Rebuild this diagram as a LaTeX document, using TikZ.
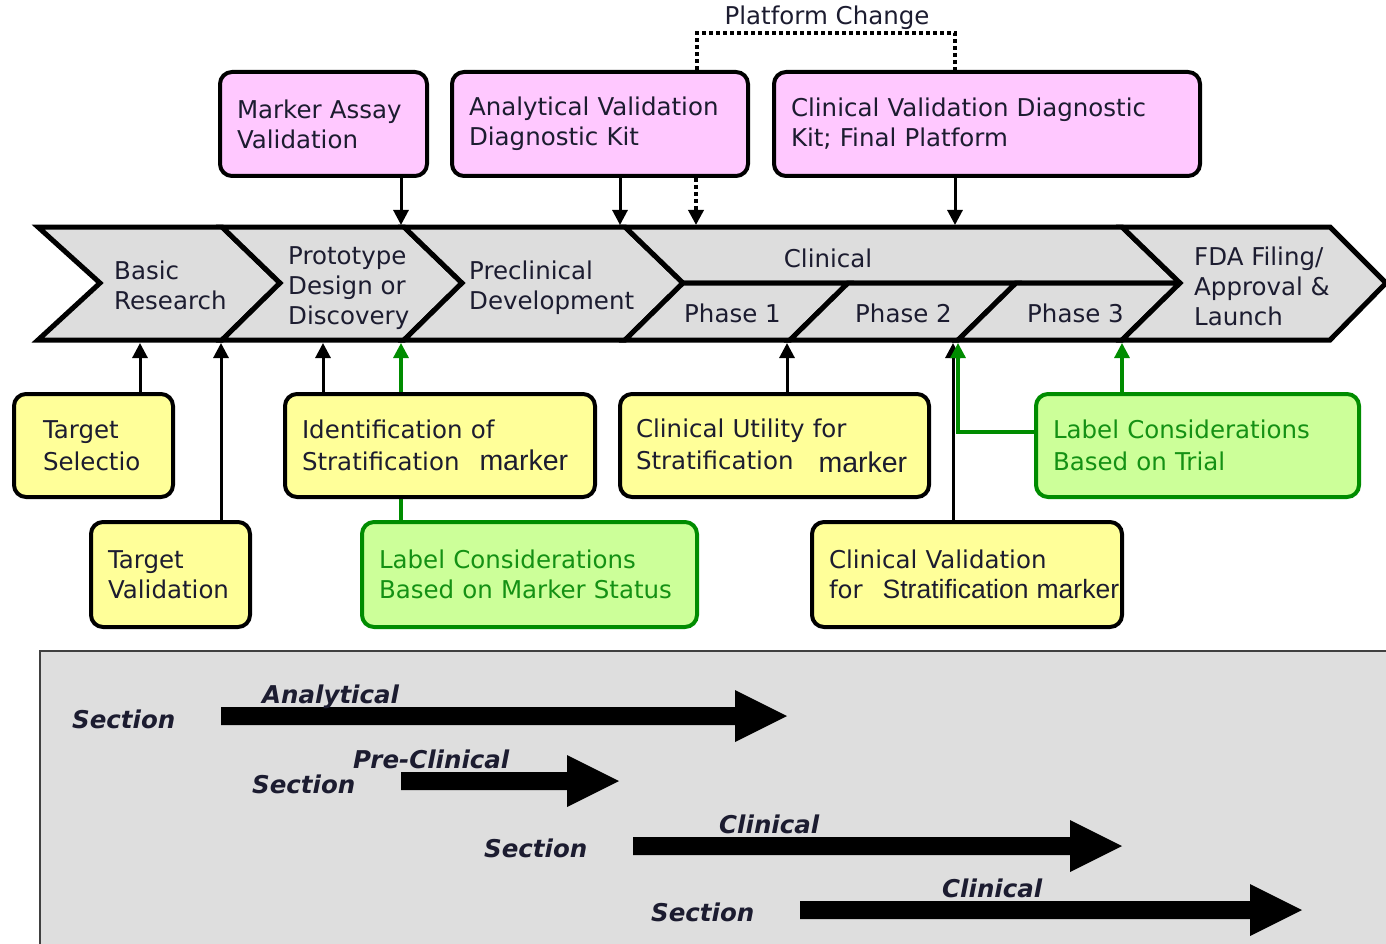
\documentclass[tikz,border=0pt]{standalone}
\usepackage{fontspec}
\setmainfont{DejaVu Sans}
\newfontfamily\arialf{Liberation Sans}
\usetikzlibrary{arrows.meta}
\definecolor{txt}{RGB}{28,28,48}
\definecolor{pinkf}{RGB}{255,200,255}
\definecolor{yelf}{RGB}{255,255,153}
\definecolor{grnf}{RGB}{204,255,153}
\definecolor{grnd}{RGB}{0,140,0}
\definecolor{grnt}{RGB}{20,145,20}
\definecolor{chevf}{RGB}{221,221,221}
\definecolor{panelf}{RGB}{222,222,222}
\pgfdeclarelayer{chev}
\pgfdeclarelayer{conn}
\pgfsetlayers{chev,conn,main}
\tikzset{
  basefont/.style={font=\fontsize{24.5}{30}\selectfont, text=txt},
  chevtext/.style={basefont, anchor=west, align=left, inner sep=0pt},
  chevshape/.style={draw=black, fill=chevf, line width=5pt, line join=miter},
  boxbase/.style={basefont, line width=4pt, rounded corners=12pt, align=left, inner ysep=0pt},
  lowrow/.style={font=\fontsize{24.5}{32}\selectfont},
  pinkbox/.style={boxbase, draw=black, fill=pinkf},
  yelbox/.style={boxbase, draw=black, fill=yelf},
  grnbox/.style={boxbase, draw=grnd, fill=grnf, text=grnt},
  conn/.style={line width=3pt, draw=black, -{Triangle[width=15pt,length=15pt]}},
  gconn/.style={line width=3.2pt, color=grnd, -{Triangle[width=15pt,length=15pt]}},
  dotconn/.style={line width=3.5pt, dash pattern=on 4pt off 3pt},
  sectext/.style={font=\fontsize{24.5}{30}\selectfont\bfseries\itshape, text=txt, anchor=base west, inner sep=0pt},
  blockarrow/.style={fill=black},
}
\newcommand{\mk}[1]{{\arialf\fontsize{28.5}{30}\selectfont #1}}
\begin{document}
\begin{tikzpicture}[x=1pt,y=-1pt]
\useasboundingbox (0,0) rectangle (1386,944);

% ---------- chevron band ----------
\begin{pgfonlayer}{chev}
\draw[chevshape] (38,227) -- (222,227) -- (280,283) -- (222,340) -- (38,340) -- (100,283) -- cycle;
\draw[chevshape] (222,227) -- (404,227) -- (462,283) -- (404,340) -- (222,340) -- (280,283) -- cycle;
\draw[chevshape] (404,227) -- (625,227) -- (683,283) -- (625,340) -- (404,340) -- (462,283) -- cycle;
\draw[chevshape] (625,227) -- (1122,227) -- (1180,283) -- (683,283) -- cycle;
\draw[chevshape] (683,283) -- (848,283) -- (790,340) -- (625,340) -- cycle;
\draw[chevshape] (848,283) -- (1016,283) -- (958,340) -- (790,340) -- cycle;
\draw[chevshape] (1016,283) -- (1180,283) -- (1122,340) -- (958,340) -- cycle;
\draw[chevshape] (1122,227) -- (1330,227) -- (1386,283) -- (1330,340) -- (1122,340) -- (1180,283) -- cycle;
\end{pgfonlayer}

\node[chevtext] (basic) at (114,285) {Basic\\Research};
\node[chevtext] (proto) at (288,288) {Prototype\\Design or\\Discovery};
\node[chevtext] (precl) at (469,288) {Preclinical\\Development};
\node[basefont, inner sep=0pt] (clin) at (828,258) {Clinical};
\node[chevtext] (ph1) at (684,313) {Phase 1};
\node[chevtext] (ph2) at (855,313) {Phase 2};
\node[chevtext] (ph3) at (1027,313) {Phase 3};
\node[chevtext] (fda) at (1194,286) {FDA Filing/\\Approval \&\\Launch};

% ---------- band attachment points ----------
\coordinate (t401) at (401,225);
\coordinate (t620) at (620,225);
\coordinate (t696) at (696,225);
\coordinate (t955) at (955,225);
\coordinate (b140) at (140,343);
\coordinate (b221) at (221,343);
\coordinate (b323) at (323,343);
\coordinate (g401) at (401,343);
\coordinate (b787) at (787,343);
\coordinate (b953) at (953,343);
\coordinate (g958) at (958,343);
\coordinate (gcorner) at (958,432);
\coordinate (g1122) at (1122,343);
\coordinate (pcl) at (697,33);
\coordinate (pcr) at (955,33);

% ---------- top boxes ----------
\node[pinkbox, minimum width=207pt, minimum height=104pt, text width=173pt, inner xsep=17pt] (mav) at (323.5,124) {Marker Assay\\Validation};
\node[pinkbox, minimum width=296pt, minimum height=104pt, text width=262pt, inner xsep=17pt] (avk) at (600,124) {Analytical Validation\\Diagnostic Kit};
\node[pinkbox, minimum width=426pt, minimum height=104pt, text width=392pt, inner xsep=17pt] (cvk) at (987,124) {Clinical Validation Diagnostic\\Kit; Final Platform};
\node[basefont, inner sep=0pt] (pc) at (827,18) {Platform Change};

% ---------- lower boxes ----------
\node[yelbox, lowrow, minimum width=159pt, minimum height=103pt, text width=101pt, inner xsep=29pt] (ts) at (93.5,445.5) {Target\\Selectio};
\node[yelbox, minimum width=159pt, minimum height=105pt, text width=125pt, inner xsep=17pt] (tv) at (170.5,574.5) {Target\\Validation};
\node[yelbox, lowrow, minimum width=310pt, minimum height=103pt, text width=276pt, inner xsep=17pt] (ids) at (440,445.5) {Identification of\\\mbox{Stratification\hspace{20pt}\mk{marker}}};
\node[yelbox, lowrow, minimum width=309pt, minimum height=103pt, text width=277pt, inner xsep=16pt] (cus) at (774.5,445.5) {Clinical Utility for\\\mbox{Stratification\hspace{25pt}\raisebox{-3pt}{\mk{marker}}}};
\node[grnbox, minimum width=335pt, minimum height=105pt, text width=301pt, inner xsep=17pt] (lms) at (529.5,574.5) {Label Considerations\\Based on Marker Status};
\node[yelbox, minimum width=310pt, minimum height=105pt, text width=276pt, inner xsep=17pt] (cvs) at (967,574.5) {Clinical Validation\\\mbox{for\hspace{20pt}{\arialf\fontsize{26.5}{30}\selectfont Stratification marker}}};
\node[grnbox, lowrow, minimum width=323pt, minimum height=103pt, text width=289pt, inner xsep=17pt] (lct) at (1197.5,445.5) {Label Considerations\\Based on Trial};

% ---------- connectors ----------
\begin{pgfonlayer}{conn}
\draw[conn] (mav.south -| t401) -- (t401);
\draw[conn] (avk.south -| t620) -- (t620);
\draw[conn, dotconn] (avk.south -| t696) -- (t696);
\draw[conn] (cvk.south -| t955) -- (t955);
\draw[dotconn] (avk.north -| pcl) -- (pcl) -- (pcr) -- (cvk.north -| pcr);
\draw[conn] (ts.north -| b140) -- (b140);
\draw[conn] (tv.north -| b221) -- (b221);
\draw[conn] (ids.north -| b323) -- (b323);
\draw[gconn] (lms.north -| g401) -- (g401);
\draw[conn] (cus.north -| b787) -- (b787);
\draw[conn] (cvs.north -| b953) -- (b953);
\draw[gconn] (lct.west |- gcorner) -- (gcorner) -- (g958);
\draw[gconn] (lct.north -| g1122) -- (g1122);
\end{pgfonlayer}

% ---------- bottom panel ----------
\draw[fill=panelf, draw=black!75, line width=1.5pt] (40,651) rectangle (1392,950);
\fill[blockarrow] (221,707) -- (735,707) -- (735,690) -- (787,716) -- (735,742) -- (735,725) -- (221,725) -- cycle;
\fill[blockarrow] (401,772) -- (567,772) -- (567,755) -- (619,781) -- (567,807) -- (567,790) -- (401,790) -- cycle;
\fill[blockarrow] (633,837) -- (1070,837) -- (1070,820) -- (1122,846) -- (1070,872) -- (1070,855) -- (633,855) -- cycle;
\fill[blockarrow] (800,901) -- (1250,901) -- (1250,884) -- (1302,910) -- (1250,936) -- (1250,919) -- (800,919) -- cycle;
\node[sectext] (s1a) at (262,703) {Analytical};
\node[sectext] (s1b) at (72,728) {Section};
\node[sectext] (s2a) at (353,768) {Pre-Clinical};
\node[sectext] (s2b) at (252,793) {Section};
\node[sectext] (s3a) at (719,833) {Clinical};
\node[sectext] (s3b) at (484,857) {Section};
\node[sectext] (s4a) at (942,897) {Clinical};
\node[sectext] (s4b) at (651,921) {Section};
\end{tikzpicture}
\end{document}
